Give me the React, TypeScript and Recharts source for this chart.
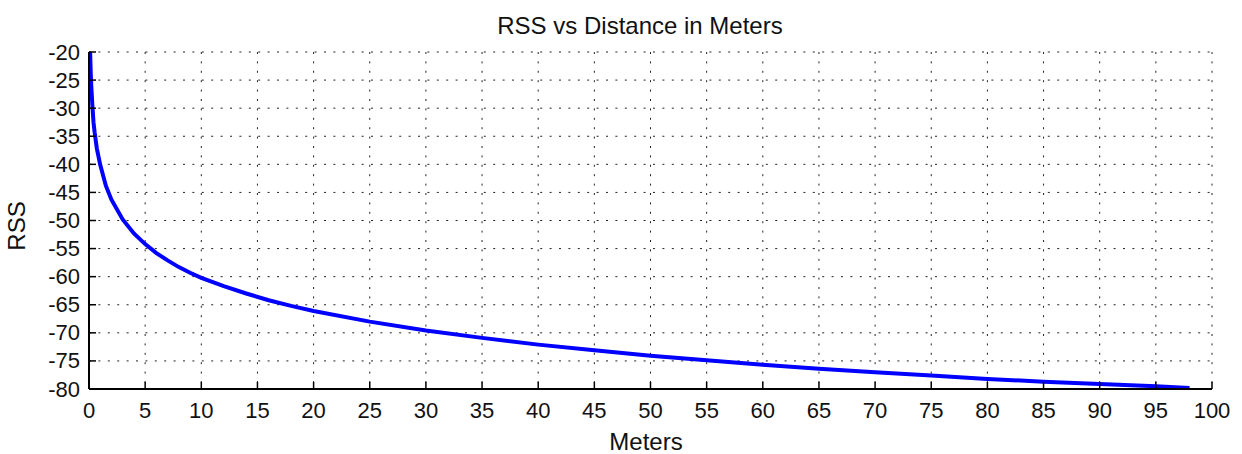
import { LineChart, Line, XAxis, YAxis, CartesianGrid } from 'recharts';

const distances = [0.1, 0.15, 0.2, 0.3, 0.4, 0.5, 0.7, 1, 1.5, 2, 3, 4, 5, 6, 7, 8, 9, 10, 12, 14, 16, 18, 20, 25, 30, 35, 40, 45, 50, 55, 60, 65, 70, 75, 80, 85, 90, 95, 98];
const rssValues = [-20, -23.5, -26, -29.5, -32.5, -34.3, -37.2, -40.1, -43.8, -46.3, -49.8, -52.3, -54.2, -55.8, -57.1, -58.3, -59.3, -60.2, -61.7, -63, -64.2, -65.2, -66.1, -68, -69.6, -70.9, -72.1, -73.1, -74.1, -74.9, -75.7, -76.4, -77, -77.6, -78.2, -78.7, -79.1, -79.5, -79.8];

const xTicks = [0, 5, 10, 15, 20, 25, 30, 35, 40, 45, 50, 55, 60, 65, 70, 75, 80, 85, 90, 95, 100];
const yTicks = [-80, -75, -70, -65, -60, -55, -50, -45, -40, -35, -30, -25, -20];

const data = distances.map((d, i) => ({ d, rss: rssValues[i] }));

const FONT = 'Liberation Sans, Arial, sans-serif';
const TICK_LEN = 7;

const BottomTick = ({ x, y, payload }: any) => (
  <g>
    <line x1={x} x2={x} y1={y} y2={y - TICK_LEN} stroke="#000" strokeWidth={1.5} />
    <text x={x} y={y + 29} textAnchor="middle" fontSize={22} fontFamily={FONT} fill="#111">
      {payload.value}
    </text>
  </g>
);

const TopTick = ({ x, y }: any) => (
  <line x1={x} x2={x} y1={y} y2={y + TICK_LEN} stroke="#000" strokeWidth={1.5} />
);

const LeftTick = ({ x, y, payload }: any) => (
  <g>
    <line x1={x} x2={x + TICK_LEN} y1={y} y2={y} stroke="#000" strokeWidth={1.5} />
    <text x={x - 9} y={y} textAnchor="end" dominantBaseline="central" fontSize={22} fontFamily={FONT} fill="#111">
      {payload.value}
    </text>
  </g>
);

const RightTick = ({ x, y }: any) => (
  <line x1={x} x2={x - TICK_LEN} y1={y} y2={y} stroke="#000" strokeWidth={1.5} />
);

export default function App() {
  return (
    <div style={{ position: 'absolute', left: 0, top: 0, width: 1242, height: 454, background: '#fff' }}>
      <LineChart width={1242} height={454} data={data} margin={{ top: 52, right: 30, bottom: 0, left: 0 }}>
        <CartesianGrid stroke="#222" strokeDasharray="2 7.4" strokeWidth={1} />
        <XAxis
          dataKey="d"
          type="number"
          domain={[0, 100]}
          ticks={xTicks}
          interval={0}
          height={65}
          tickSize={0}
          tickMargin={0}
          tickLine={false}
          axisLine={{ stroke: '#000', strokeWidth: 2 }}
          tick={<BottomTick />}
          allowDataOverflow
        />
        <XAxis
          xAxisId="t"
          orientation="top"
          type="number"
          domain={[0, 100]}
          ticks={xTicks}
          interval={0}
          height={0}
          tickSize={0}
          tickMargin={0}
          tickLine={false}
          axisLine={{ stroke: '#000', strokeWidth: 2 }}
          tick={<TopTick />}
          allowDataOverflow
        />
        <YAxis
          type="number"
          domain={[-80, -20]}
          ticks={yTicks}
          interval={0}
          width={89}
          tickSize={0}
          tickMargin={0}
          tickLine={false}
          axisLine={{ stroke: '#000', strokeWidth: 2 }}
          tick={<LeftTick />}
          allowDataOverflow
        />
        <YAxis
          yAxisId="r"
          orientation="right"
          type="number"
          domain={[-80, -20]}
          ticks={yTicks}
          interval={0}
          width={0}
          tickSize={0}
          tickMargin={0}
          tickLine={false}
          axisLine={{ stroke: '#000', strokeWidth: 2 }}
          tick={<RightTick />}
          allowDataOverflow
        />
        <Line
          type="linear"
          dataKey="rss"
          stroke="#0000ff"
          strokeWidth={4}
          dot={false}
          isAnimationActive={false}
        />
        <text x={640} y={34} textAnchor="middle" fontSize={24} fontFamily={FONT} fill="#111">
          RSS vs Distance in Meters
        </text>
        <text x={646} y={450} textAnchor="middle" fontSize={24} fontFamily={FONT} fill="#111">
          Meters
        </text>
        <text
          x={16}
          y={226}
          textAnchor="middle"
          dominantBaseline="central"
          fontSize={24}
          fontFamily={FONT}
          fill="#111"
          transform="rotate(-90 16 226)"
        >
          RSS
        </text>
      </LineChart>
    </div>
  );
}
